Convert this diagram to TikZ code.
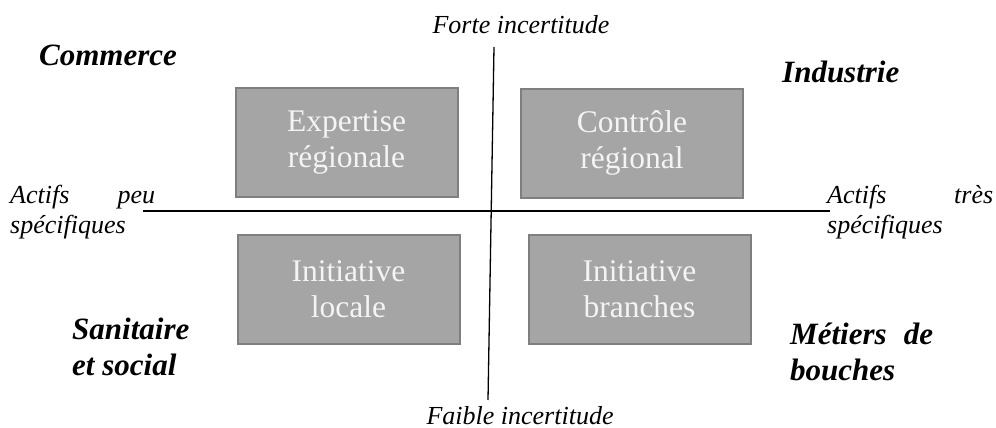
\documentclass[tikz,border=0pt]{standalone}
\usepackage{fontspec}
\setmainfont{Liberation Serif}
\definecolor{boxfill}{HTML}{A5A5A5}
\definecolor{boxline}{HTML}{7F7F7F}
\definecolor{boxtext}{HTML}{F4F4F4}
\begin{document}
\begin{tikzpicture}[x=1pt,y=-1pt,
  quad/.style={draw=boxline,line width=2pt,fill=boxfill,text=boxtext,
    minimum width=222pt,minimum height=109pt,inner sep=0pt,align=center,
    font=\fontsize{31.5}{36}\selectfont},
  axislabel/.style={inner sep=0pt,align=left,font=\fontsize{26}{30}\selectfont\itshape},
  sector/.style={inner sep=0pt,align=left,font=\fontsize{31}{36}\selectfont\bfseries\itshape},
  axis/.style={line width=1.3pt}]
\useasboundingbox (0,0) rectangle (996,428);
% boxes
\node[quad] (exp) at (346.5,142) {Expertise\\régionale};
\node[quad] (ctl) at (632,143) {Contrôle\\régional};
\node[quad] (loc) at (348.5,289) {Initiative\\locale};
\node[quad] (bra) at (639.5,289) {Initiative\\branches};
% axes
\coordinate (hl) at (143,211);
\coordinate (hr) at (830,211);
\coordinate (vt) at (494,47);
\coordinate (vb) at (488,400);
\draw[axis] (hl) -- (hr);
\draw[axis] (vt) -- (vb);
% axis labels
\node[axislabel,anchor=base] (forte) at (521,34) {Forte incertitude};
\node[axislabel,anchor=base] (faible) at (520,424) {Faible incertitude};
\node[axislabel,anchor=base west] (peu) at (10,233) {\makebox[145pt][s]{Actifs peu}\\spécifiques};
\node[axislabel,anchor=base west] (tres) at (827,233) {\makebox[166pt][s]{Actifs très}\\spécifiques};
% sectors
\node[sector,anchor=base west] (com) at (39,66) {Commerce};
\node[sector,anchor=base west] (ind) at (782,82) {Industrie};
\node[sector,anchor=base west] (san) at (72,375) {Sanitaire\\et social};
\node[sector,anchor=base west] (met) at (790,380) {\makebox[143pt][s]{Métiers de}\\bouches};
\end{tikzpicture}
\end{document}
